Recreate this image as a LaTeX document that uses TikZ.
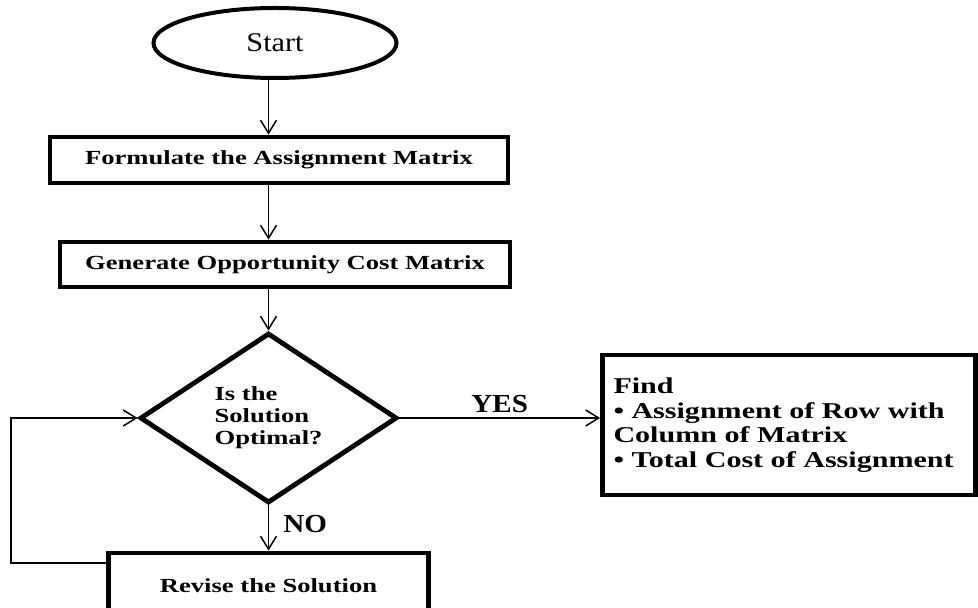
\documentclass[tikz,border=0pt]{standalone}
\usepackage{fontspec}
\setmainfont{Liberation Serif}
\newfontfamily\wideserif{Liberation Serif}[FakeStretch=1.33]
\newfontfamily\tagserif{Liberation Serif}[FakeStretch=1.12]
\usetikzlibrary{shapes.geometric,arrows.meta,positioning,calc}

\begin{document}
\begin{tikzpicture}[
  x=0.5pt, y=-0.5pt,
  termbox/.style={ellipse, draw, line width=2pt, minimum width=121.5pt, minimum height=35pt, font=\tagserif\fontsize{13.5}{15}\selectfont},
  procbox/.style={rectangle, draw, line width=2.4pt, inner sep=0pt, font=\wideserif\bfseries\fontsize{10}{11}\selectfont},
  decbox/.style={diamond, draw, line width=2.4pt, inner sep=0pt, minimum width=128.5pt, minimum height=75pt, align=left, font=\wideserif\bfseries\fontsize{10}{11}\selectfont},
  flow/.style={-{Straight Barb[length=6.5pt,width=8pt]}, line width=0.75pt},
  tag/.style={inner sep=2pt, font=\tagserif\bfseries\fontsize{13}{15}\selectfont}
]
\clip (0,0) rectangle (978,608);

\node[termbox] (start) at (275,43) {Start};
\node[procbox, minimum width=229pt, minimum height=23pt] (form) at (279,160) {Formulate the Assignment Matrix};
\node[procbox, minimum width=225pt, minimum height=22.5pt] (gen) at (285,264.5) {Generate Opportunity Cost Matrix};
\node[decbox] (dec) at (268.5,418) {Is the\\Solution\\Optimal?};
\node[procbox, minimum width=186.5pt, minimum height=70pt, inner sep=5.5pt, text width=175.5pt, align=left, font=\wideserif\bfseries\fontsize{11.3}{12.3}\selectfont] (res) at (789,425) {Find\\• Assignment of Row with\\Column of Matrix\\• Total Cost of Assignment};
\node[procbox, minimum width=160pt, minimum height=33pt] (rev) at (268.5,586) {Revise the Solution};

\draw[flow] (dec.north |- start.south) -- (dec.north |- form.north);
\draw[flow] (dec.north |- form.south) -- (dec.north |- gen.north);
\draw[flow] (dec.north |- gen.south) -- (dec.north);
\draw[flow] (dec.east) -- node[tag, above]{YES} (dec.east -| res.west);
\draw[flow] (dec.south) -- node[tag, right=5pt, yshift=2pt]{NO} (rev.north);
\draw[flow] (rev.172) -- ++(-95,0) |- (dec.west);
\end{tikzpicture}
\end{document}
